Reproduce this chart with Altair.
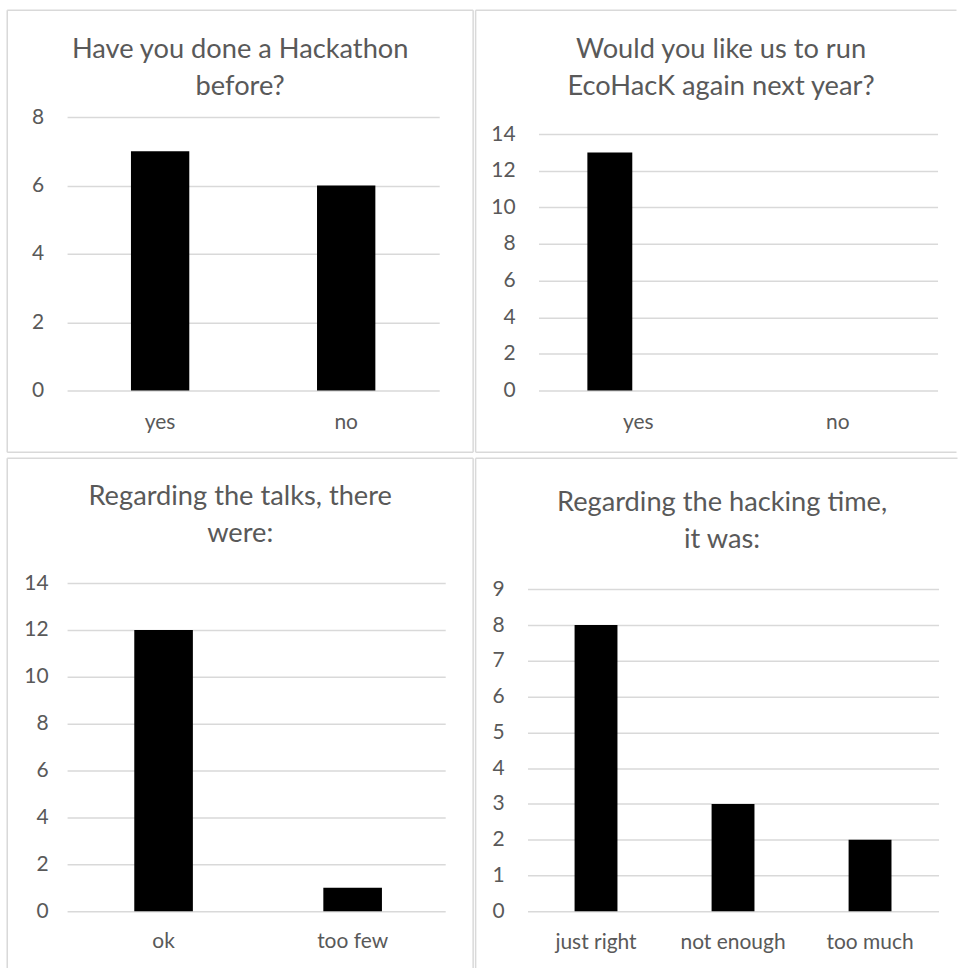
import altair as alt
import pandas as pd

# ---------------- data ----------------
cats1 = ["yes", "no"]
vals1 = [7, 6]
title1 = ["Have you done a Hackathon", "before?"]

cats2 = ["yes", "no"]
vals2 = [13, 0]
series2 = ["Series1", "Series1"]
series2_domain = ["Series1", "Series2"]
title2 = ["Would you like us to run", "EcoHacK again next year?"]

cats3 = ["ok", "too few"]
vals3 = [12, 1]
title3 = ["Regarding the talks, there", "were:"]

cats4 = ["just right", "not enough", "too much"]
vals4 = [8, 3, 2]
title4 = ["Regarding the hacking time,", "it was:"]

ticks1 = [0, 2, 4, 6, 8]
ticks2 = [0, 2, 4, 6, 8, 10, 12, 14]
ticks3 = [0, 2, 4, 6, 8, 10, 12, 14]
ticks4 = [0, 1, 2, 3, 4, 5, 6, 7, 8, 9]

# ---------------- style ----------------
FONT = "Lato"
TEXT = "#595959"
GRID = "#d9d9d9"
BORDER_W = 1.5


def hline(x1, x2, y):
    return alt.Chart(alt.Data(values=[{"k": 0}])).mark_rule(
        color=GRID, strokeWidth=BORDER_W
    ).encode(x=alt.value(x1), x2=alt.value(x2), y=alt.value(y))


def vline(x, y1, y2):
    return alt.Chart(alt.Data(values=[{"k": 0}])).mark_rule(
        color=GRID, strokeWidth=BORDER_W
    ).encode(x=alt.value(x), y=alt.value(y1), y2=alt.value(y2))


def panel(cats, vals, ticks, ymax, width, height, title, t_offset, t_dx,
          pad_inner, x_align, ylab_pad, xlab_pad, borders,
          series=None, series_domain=None, off_pad=0.0):
    df = pd.DataFrame({"cat": cats, "val": vals})
    enc = dict(
        x=alt.X("cat:N", sort=cats,
                scale=alt.Scale(domain=cats, paddingInner=pad_inner,
                                paddingOuter=pad_inner / 2, align=x_align),
                axis=alt.Axis(title=None, labelAngle=0, domain=False, ticks=False,
                              grid=False, labelPadding=xlab_pad,
                              labelBaseline="alphabetic")),
        y=alt.Y("val:Q",
                scale=alt.Scale(domain=[0, ymax], nice=False, zero=True),
                axis=alt.Axis(title=None, values=ticks, domain=False, ticks=False,
                              grid=True, labelPadding=ylab_pad)),
    )
    if series is not None:
        df["series"] = series
        enc["xOffset"] = alt.XOffset(
            "series:N",
            scale=alt.Scale(domain=series_domain, paddingInner=off_pad, paddingOuter=0),
        )
    bars = alt.Chart(df).mark_bar(color="black").encode(**enc)
    return alt.layer(bars, *borders).properties(
        width=width, height=height,
        title=alt.TitleParams(text=title, offset=t_offset, dx=t_dx),
    )


tl = panel(cats1, vals1, ticks1, 8, 373, 274, title1, -91, 0,
           0.6865, 0.5, 23.5, 38,
           [hline(-60, 407, -107), hline(-60, 407, 336),
            vline(-60, -107, 336), vline(407, -107, 336)])

tr = panel(cats2, vals2, ticks2, 14.93, 400, 274, title2, -91, 5,
           0.49, 0.5, 23.5, 38,
           [hline(-63, 419, -107), hline(-63, 419, 336),
            vline(-63, -107, 336)],
           series=series2, series_domain=series2_domain, off_pad=0.21)

bl = panel(cats3, vals3, ticks3, 14, 379, 329, title3, -90, 0,
           0.69, 0.515, 19, 36,
           [hline(-60, 407, -125),
            vline(-60, -125, 386), vline(407, -125, 386)])

br = panel(cats4, vals4, ticks4, 9.175, 412, 329, title4, -96, 5.5,
           0.687, 0.5, 23.5, 37,
           [hline(-52, 431, -125),
            vline(-52, -125, 386)])

row1 = alt.hconcat(tl, tr, spacing=0.5)
row2 = alt.hconcat(bl, br, spacing=0.5)

chart = alt.vconcat(row1, row2, spacing=4).properties(
    padding={"left": 6.25, "top": 8.25, "right": 0, "bottom": 0},
    background="white",
).configure_view(
    strokeWidth=0
).configure_axis(
    labelFont=FONT, labelFontSize=21, labelColor=TEXT,
    gridColor=GRID, gridWidth=1.5,
).configure_title(
    font=FONT, fontSize=27.3, color=TEXT, fontWeight="normal",
    anchor="middle", frame="bounds", baseline="alphabetic", lineHeight=37.5,
)

chart.save("out.html", embed_options={"renderer": "svg", "actions": False})
